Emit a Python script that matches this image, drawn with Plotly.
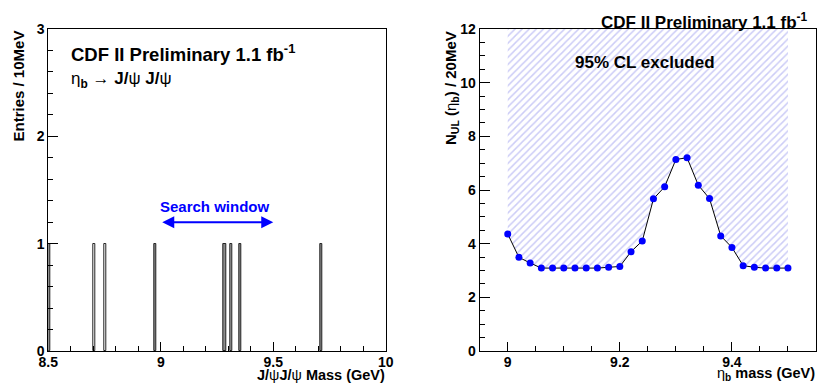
import plotly.graph_objects as go

# ---- Left panel data: J/psi J/psi mass histogram (10 MeV bins) ----
bin_low = [8.50, 8.70, 8.75, 8.97, 9.28, 9.31, 9.35, 9.71]
bin_counts = [1, 1, 1, 1, 1, 1, 1, 1]
bin_fill = ["#8c8c8c", "#ffffff", "#ffffff", "#8c8c8c", "#8c8c8c", "#a8a8a8", "#8c8c8c", "#8c8c8c"]
bin_width = 0.01

# ---- Right panel data: upper limit vs eta_b mass ----
eta_mass = [9.00, 9.02, 9.04, 9.06, 9.08, 9.10, 9.12, 9.14, 9.16, 9.18, 9.20, 9.22, 9.24,
            9.26, 9.28, 9.30, 9.32, 9.34, 9.36, 9.38, 9.40, 9.42, 9.44, 9.46, 9.48, 9.50]
n_ul = [4.36, 3.49, 3.28, 3.09, 3.09, 3.09, 3.09, 3.09, 3.09, 3.12, 3.15, 3.70, 4.10,
        5.67, 6.12, 7.14, 7.20, 6.18, 5.68, 4.29, 3.86, 3.18, 3.12, 3.09, 3.09, 3.09]
y_top = 12

W, H = 818, 385
FONT = "Liberation Sans, Arial, sans-serif"

fig = go.Figure()

fig.add_trace(go.Bar(
    x=[b + bin_width / 2 for b in bin_low], y=bin_counts, width=bin_width,
    marker=dict(color=bin_fill, line=dict(color="#222222", width=1)),
    xaxis="x", yaxis="y", showlegend=False))

# excluded region: from curve up to top
fig.add_trace(go.Scatter(x=eta_mass, y=n_ul, mode="lines", line=dict(width=0, color="rgba(0,0,0,0)"),
                         xaxis="x2", yaxis="y2", showlegend=False, hoverinfo="skip"))
fig.add_trace(go.Scatter(x=eta_mass, y=[y_top] * len(eta_mass), mode="lines",
                         line=dict(width=0, color="rgba(0,0,0,0)"), fill="tonexty",
                         fillcolor="rgba(0,0,0,0)",
                         fillpattern=dict(shape="/", fgcolor="#9a9aee", bgcolor="white",
                                          size=5, solidity=0.3),
                         xaxis="x2", yaxis="y2", showlegend=False, hoverinfo="skip"))
fig.add_trace(go.Scatter(x=eta_mass, y=n_ul, mode="lines+markers",
                         line=dict(color="black", width=1),
                         marker=dict(color="#0000ff", size=7),
                         xaxis="x2", yaxis="y2", showlegend=False))

tickfont = dict(family=FONT, size=14, color="black", weight="bold")
common_axis = dict(showline=True, linecolor="black", linewidth=1, mirror=True,
                   ticks="inside", tickcolor="black", showgrid=False, zeroline=False,
                   tickfont=tickfont, automargin=False)

y0_px, y1_px = 351, 29
ydom = [(H - y0_px) / H, (H - y1_px) / H]

fig.update_layout(
    width=W, height=H, margin=dict(l=0, r=0, t=0, b=0),
    paper_bgcolor="white", plot_bgcolor="white", bargap=0,
    font=dict(family=FONT, color="black"),
    xaxis=dict(domain=[48.3 / W, 385.7 / W], range=[8.5, 10], dtick=0.5, tick0=8.5,
               ticklen=9, ticklabelstandoff=-2,
               minor=dict(ticks="inside", ticklen=5, dtick=0.1, tickcolor="black"),
               anchor="y", **common_axis),
    yaxis=dict(domain=ydom, range=[0, 3], dtick=1, ticklen=10,
               minor=dict(ticks="inside", ticklen=5, dtick=0.2, tickcolor="black"),
               anchor="x", **common_axis),
    xaxis2=dict(domain=[479.7 / W, 816 / W], range=[8.95, 9.55], dtick=0.2, tick0=9.0,
                ticklen=9, ticklabelstandoff=-2,
                minor=dict(ticks="inside", ticklen=5, dtick=0.05, tickcolor="black"),
                anchor="y2", **common_axis),
    yaxis2=dict(domain=ydom, range=[0, 12], dtick=2, ticklen=10,
                minor=dict(ticks="inside", ticklen=5, dtick=0.5, tickcolor="black"),
                anchor="x2", **common_axis),
)

def px_x(p):
    return p / W

def px_y(p):
    return 1 - p / H

ann = [
    dict(text="<b>CDF II Preliminary 1.1 fb<sup>-1</sup></b>", x=px_x(69), y=px_y(53),
         xanchor="left", yanchor="middle", font=dict(size=18.5)),
    dict(text="η<sub><b>b</b></sub> → <b>J/</b>ψ <b>J/</b>ψ", x=px_x(69), y=px_y(80),
         xanchor="left", yanchor="middle", font=dict(size=17)),
    dict(text="<b>Search window</b>", x=px_x(215), y=px_y(207), xanchor="center",
         yanchor="middle", font=dict(size=15, color="#0000ff")),
    dict(text="<b>Entries / 10MeV</b>", x=px_x(18), y=px_y(29), textangle=-90,
         xanchor="center", yanchor="top", font=dict(size=15)),
    dict(text="<b>J/</b>ψ<b>J/</b>ψ<b> Mass (GeV)</b>", x=px_x(387), y=px_y(385),
         xanchor="right", yanchor="bottom", font=dict(size=14.5)),
    dict(text="<b>CDF II Preliminary 1.1 fb<sup>-1</sup></b>", x=px_x(810), y=px_y(21),
         xanchor="right", yanchor="middle", font=dict(size=17)),
    dict(text="<b>95% CL excluded</b>", x=px_x(645), y=px_y(63), xanchor="center",
         yanchor="middle", font=dict(size=17)),
    dict(text="<b>N<sub>UL</sub> (</b>η<sub><b>b</b></sub><b>) / 20MeV</b>", x=px_x(451),
         y=px_y(29), textangle=-90, xanchor="center", yanchor="top", font=dict(size=15)),
    dict(text="η<sub><b>b</b></sub><b> mass (GeV)</b>", x=px_x(817), y=px_y(385),
         xanchor="right", yanchor="bottom", font=dict(size=14.5)),
]
for a in ann:
    a.update(xref="paper", yref="paper", showarrow=False)
    a.setdefault("font", {})
    a["font"].setdefault("family", FONT)
    a["font"].setdefault("color", "black")
    fig.add_annotation(**a)

# double-headed arrow for the search window
fig.add_annotation(x=9.5, y=1.2, ax=9.0, ay=1.2, xref="x", yref="y", axref="x", ayref="y",
                   text="", showarrow=True, arrowhead=2, startarrowhead=2, arrowside="end+start",
                   arrowsize=1.2, startarrowsize=1.2, arrowwidth=2, arrowcolor="#0000ff")

fig.write_html("out.html")
